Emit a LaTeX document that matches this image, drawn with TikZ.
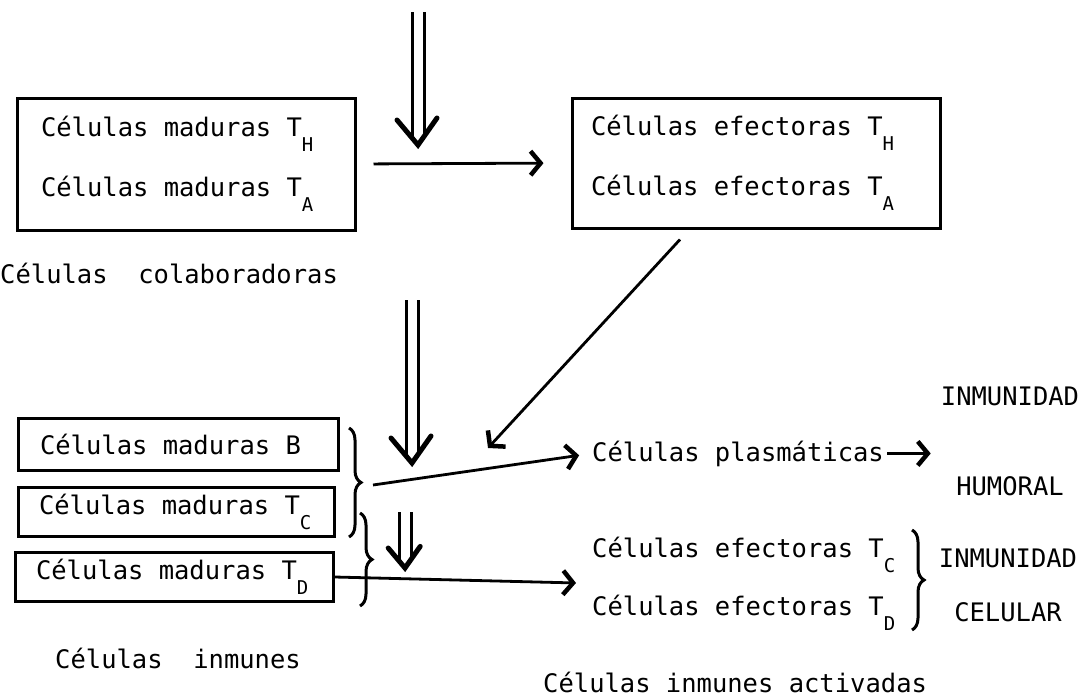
\documentclass[tikz,border=0pt]{standalone}
\usepackage{fontspec}
\setmonofont{DejaVu Sans Mono}
\usepackage{tikz}
\usetikzlibrary{arrows.meta,decorations.pathreplacing,calc}

\DeclareRobustCommand{\maq}[1]{\ttfamily\fontsize{25.5}{#1}\selectfont\spaceskip=15.35pt\relax}
\newcommand{\subT}[1]{\raisebox{-15pt}{\fontsize{19}{19}\selectfont #1}}

\begin{document}
\begin{tikzpicture}[x=1pt,y=-1pt,
  every node/.style={font=\maq{60}, inner sep=0pt,
    execute at begin node={\spaceskip=15.35pt\relax}},
  caja/.style={draw, line width=3pt, align=left, inner ysep=0pt},
  linea/.style={line width=3pt},
  punta/.style={line width=5pt, line cap=round},
  flecha/.style={line width=2.8pt, -{Straight Barb[length=10pt,width=24pt,line width=4.5pt]}},
  llave/.style={decorate, decoration={brace, amplitude=12pt}, line width=3pt}]
  \useasboundingbox (0,0) rectangle (1085,696);

  % cajas de arriba
  \node (maduras)[caja, text width=290pt, inner xsep=24pt, minimum height=132pt] at (186,164)
    {Células maduras T\subT{H}\\Células maduras T\subT{A}};
  \node (efectoras)[caja, text width=330pt, inner xsep=19pt, minimum height=130pt] at (756,163)
    {Células efectoras T\subT{H}\\Células efectoras T\subT{A}};
  \node (colab)[anchor=west] at (0,273) {Células\ \ colaboradoras};

  % cajas de abajo
  \node (celB)[caja, text width=276pt, inner xsep=22pt, minimum height=52pt] at (178,444)
    {Células maduras B};
  \node (celTC)[caja, text width=274pt, inner xsep=21pt, minimum height=49pt] at (176,512)
    {Células maduras T\subT{C}};
  \node (celTD)[caja, text width=276pt, inner xsep=21pt, minimum height=49pt] at (174,577)
    {Células maduras T\subT{D}};
  \node (inmunes)[anchor=west] at (55,658) {Células\ \ inmunes};

  % lado derecho
  \node (plasma)[anchor=base west] at (592,461) {Células plasmáticas};
  \node (efectTC)[anchor=base west] at (592,557) {Células efectoras T\subT{C}};
  \node (efectTD)[anchor=base west] at (592,615) {Células efectoras T\subT{D}};
  \node (activadas)[anchor=west] at (543,682) {Células inmunes activadas};
  \node (humoral)[align=center, font=\maq{90}] at (1010,441) {INMUNIDAD\\HUMORAL};
  \node (celular)[align=center, font=\maq{54}] at (1008,585) {INMUNIDAD\\CELULAR};

  % puntos sueltos
  \coordinate (arribaIni) at (418,12);
  \coordinate (arribaFin) at (418,145);
  \coordinate (medioIni) at (412,300);
  \coordinate (medioFin) at (412,463);
  \coordinate (bajoIni) at (405,512);
  \coordinate (bajoFin) at (405,568);
  \coordinate (llaveB) at (373,485);
  \coordinate (diagFin) at (488,448);

  % flechas dobles
  \foreach \ini/\fin/\s in {arribaIni/arribaFin/1, medioIni/medioFin/1, bajoIni/bajoFin/0.8} {
    \draw[linea] ([xshift=-6pt]\ini) -- ([xshift=-6pt,yshift=9pt]\fin);
    \draw[linea] ([xshift=6pt]\ini) -- ([xshift=6pt,yshift=9pt]\fin);
    \draw[punta] ([xshift={-21pt*\s},yshift={25pt*\s}]\fin) -- (\fin)
      -- ([xshift={19pt*\s},yshift={27pt*\s}]\fin);
  }

  % flechas simples
  \draw[flecha, shorten <=17pt, shorten >=27pt] (maduras.east) -- (efectoras.west);
  \draw[flecha] ([xshift=-76pt,yshift=-10pt]efectoras.south) -- (diagFin);
  \draw[flecha, shorten >=13pt] (llaveB) -- (plasma.west);
  \draw[flecha, shorten >=16pt] (celTD.east) -- ($(efectTC.west)!0.5!(efectTD.west)$);
  \draw[flecha, shorten <=3pt, shorten >=10pt] (plasma.east) -- (plasma.east -| humoral.west);

  % llaves
  \draw[llave] (349,428) -- (349,537);
  \draw[llave] (360,513) -- (360,606);
  \draw[llave] (912,530) -- (912,630);
\end{tikzpicture}
\end{document}
